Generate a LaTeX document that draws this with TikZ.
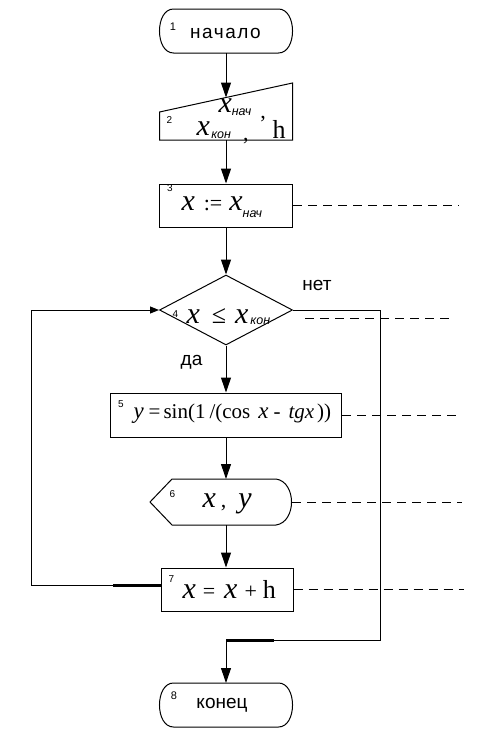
\documentclass[tikz,border=0pt]{standalone}
\usepackage{fontspec}
\setmainfont{Liberation Sans}
\newfontfamily\tms{Liberation Serif}
\usetikzlibrary{shapes.geometric,arrows.meta,calc}

\newcommand\fsz[1]{\fontsize{#1}{#1}\selectfont}
\newcommand\vx{{\tms\itshape\fsz{30}x}}
\newcommand\vy{{\tms\itshape\fsz{30}y}}
\newcommand\sbs[1]{{\itshape\fsz{12.5}#1}}
\newcommand\termshape[1]{%
  \draw ($(#1.north west)+(14,0)$) -- ($(#1.north east)+(-14,0)$)
    .. controls ($(#1.north east)+(4.7,0)$) and ($(#1.south east)+(4.7,0)$) .. ($(#1.south east)+(-14,0)$)
    -- ($(#1.south west)+(14,0)$)
    .. controls ($(#1.south west)+(-4.7,0)$) and ($(#1.north west)+(-4.7,0)$) .. cycle;}

\begin{document}
\begin{tikzpicture}[x=1pt,y=-1pt, line width=1pt,
  arr/.style={-{Triangle[length=15pt,width=10pt]}},
  arrs/.style={-{Triangle[length=9pt,width=7pt]}},
  thickseg/.style={line width=3pt},
  cmt/.style={dash pattern=on 9pt off 6pt},
  box/.style={draw, rectangle, inner sep=0pt},
  hold/.style={inner sep=0pt, outer sep=0pt},
  num/.style={inner sep=0pt, anchor=base, font=\fsz{10}},
  lbl/.style={inner sep=0pt, anchor=base, font=\fsz{19}},
  frm/.style={inner sep=0pt, anchor=base west},
]
\useasboundingbox (0,0) rectangle (477,731);

% shapes
\node[hold, minimum width=133pt, minimum height=44pt] (t1) at (226,31) {};
\termshape{t1}
\node[hold, minimum width=133pt, minimum height=57pt] (n2) at (226,111.5) {};
\draw (n2.south west) -- ($(n2.north west)+(0,29)$) -- (n2.north east) -- (n2.south east) -- cycle;
\coordinate (n2in) at ($(n2.north)+(0,14.5)$);
\node[box, minimum width=133pt, minimum height=43pt] (b3) at (226,205.5) {};
\node[draw, diamond, inner sep=0pt, minimum width=133pt, minimum height=70pt] (d4) at (226,310) {};
\node[box, minimum width=231pt, minimum height=44pt] (b5) at (226,415) {};
\node[hold, minimum width=142pt, minimum height=46pt] (d6) at (221,502) {};
\draw (d6.west) -- ($(d6.north west)+(22,0)$) -- ($(d6.north east)+(-16,0)$)
  .. controls ($(d6.north east)+(4.7,3)$) and ($(d6.south east)+(4.7,-3)$) .. ($(d6.south east)+(-16,0)$)
  -- ($(d6.south west)+(22,0)$) -- cycle;
\node[box, minimum width=132pt, minimum height=43pt] (b7) at (227,589.5) {};
\node[hold, minimum width=133pt, minimum height=44pt] (t8) at (226,705) {};
\termshape{t8}

% connectors
\draw[arr] (t1.south) -- (n2in);
\draw[arr] (n2.south) -- (b3.north);
\draw[arr] (b3.south) -- (d4.north);
\draw[arr] (d4.south) -- (b5.north);
\draw[arr] (b5.south) -- (b5.south |- d6.north);
\draw[arr] (b5.south |- d6.south) -- (b5.south |- b7.north);
\coordinate (lp) at ([yshift=4pt]b7.west);
\draw[arrs] (lp) -- ++(-129,0) |- (d4.west);
\draw[thickseg] (lp) -- ++(-48,0);
\coordinate (jn) at ($(t8.north)+(0,-43)$);
\draw (d4.east) -- ++(87,0) |- (jn);
\draw[arr] (jn) -- (t8.north);
\draw[thickseg] (jn) -- ++(48,0);

% comment lines
\draw[cmt] (b3.east) -- ++(166,0);
\draw[cmt] ($(d4.east)+(12,8)$) -- ++(148,0);
\draw[cmt] (b5.east) -- ++(118,0);
\draw[cmt] (d6.east) -- ++(170,0);
\draw[cmt] (b7.east) -- ++(170,0);

% texts
\node[num, font=\fsz{11}] (l1) at (173,30) {1};
\node[lbl] (tx1) at (225.5,38) {\addfontfeature{LetterSpace=8}начало};
\node[num] (l2) at (169.5,123) {2};
\node[frm] (f2a) at (218,112) {\vx\raisebox{-3pt}{\sbs{нач}}\hspace{9pt}\raisebox{-6pt}{\tms\fsz{22},}};
\node[frm] (f2b) at (196,135) {\vx\hspace{1.5pt}\raisebox{-3pt}{\sbs{кон}}\hspace{12pt}\raisebox{-5pt}{\tms\fsz{22},}};
\node[frm] (f2c) at (272,138) {\tms\fsz{26}h};
\node[num] (l3) at (170,191) {3};
\node[frm] (f3) at (181,210) {\vx\hspace{9pt}{\tms\fsz{22}:=}\hspace{7pt}\vx\raisebox{-7pt}{\sbs{нач}}};
\node[num] (l4) at (175.5,317) {4};
\node[frm] (f4) at (186,323) {\vx\hspace{12pt}{\tms\fsz{26}≤}\hspace{9pt}\vx\hspace{2pt}\raisebox{-1pt}{\sbs{кон}}};
\node[lbl] (tn) at (317,290) {нет};
\node[lbl] (td) at (191.5,365) {да};
\node[num] (l5) at (121,407) {5};
\node[frm] (f5) at (133,418) {\tms\fsz{21}{\fsz{23}\textit{y}}\hspace{5pt}=\hspace{3pt}sin(1\hspace{4pt}/(cos\hspace{8pt}{\fsz{23}\textit{x}}\hspace{5pt}-\hspace{8pt}\textit{tgx}\hspace{3pt}))};
\node[num] (l6) at (172.5,497) {6};
\node[frm] (f6) at (202,507) {\vx\hspace{5pt}{\tms\fsz{22},}\hspace{12pt}\vy};
\node[num] (l7) at (171.5,582) {7};
\node[frm] (f7) at (182,598) {\vx\hspace{7pt}{\tms\fsz{22}=}\hspace{9pt}\vx\hspace{7pt}{\tms\fsz{22}+}\hspace{6pt}{\tms\fsz{26}h}};
\node[num, font=\fsz{11}] (l8) at (174,699) {8};
\node[lbl] (tx8) at (222,708) {конец};
\end{tikzpicture}
\end{document}
